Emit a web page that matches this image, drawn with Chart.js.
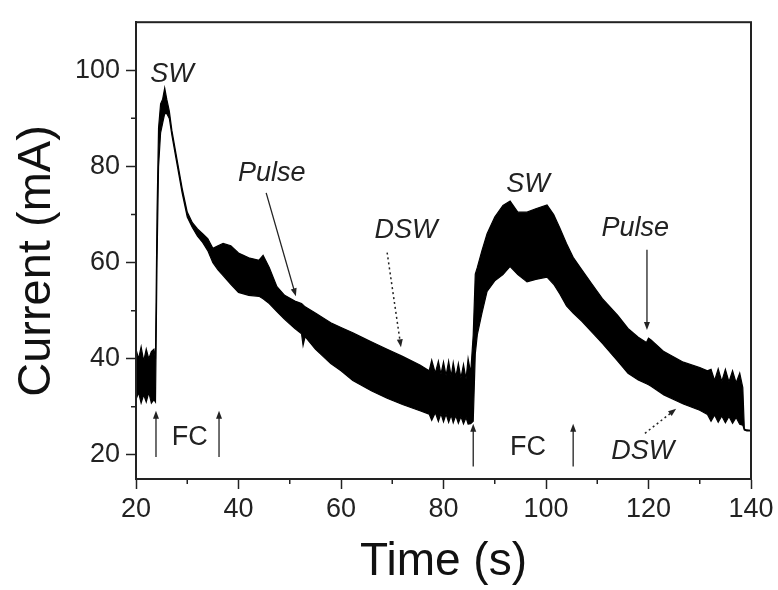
<!DOCTYPE html>
<html>
<head>
<meta charset="utf-8">
<script src="https://cdn.jsdelivr.net/npm/chart.js@4.4.0/dist/chart.umd.min.js"></script>
<style>
  html, body { margin: 0; padding: 0; background: #fff; }
  #wrap { width: 778px; height: 590px; }
</style>
</head>
<body>
<div id="wrap"><canvas id="currentChart"></canvas></div>
<script>
// time (s) and the upper / lower edge of the oscillating current band (mA)
const times = [
    20, 20.5, 21, 21.5, 22, 22.5, 23, 23.5, 23.8, 24.1,
    24.4, 24.8, 25.2, 25.6, 26, 26.5, 27, 28, 29, 30,
    31, 32, 33, 34, 35, 36, 37, 38.5, 40, 42,
    44, 44.8, 46, 47.5, 49, 51, 52.3, 52.6, 53, 55,
    58, 60, 62.3, 66, 69, 72, 75.4, 77.2, 77.7, 78.4,
    79, 79.5, 80, 80.5, 81, 81.5, 81.9, 82.4, 82.9, 83.4,
    83.9, 84.4, 84.8, 85.3, 85.8, 86.2, 86.6, 87.5, 88.5, 90,
    91.6, 93, 94.5, 96.3, 98, 100.2, 101.5, 102.7, 104, 105.3,
    107, 109, 111, 114, 116, 118, 119.6, 120, 120.5, 123,
    126.8, 130, 131.5, 132.2, 132.9, 133.6, 134.3, 135, 135.7, 136.4,
    137.1, 137.8, 138.4, 138.7, 139.2, 140
];
const upperEdge = [
    42, 40, 42.5, 39.5, 42, 40, 41.5, 42, 40, 70,
    88, 93, 94, 96.3, 94, 91.5, 87.5, 81.5, 75.5, 70.5,
    68.3, 67, 66, 65, 63, 63.5, 64, 63.5, 62, 61,
    60.5, 61.5, 59, 55, 53.2, 52, 51.5, 51.2, 50.8, 49.5,
    47.5, 46.5, 45.4, 43.5, 42, 40.5, 38.7, 37.5, 39.7, 37,
    39.5, 36.8, 39.3, 36.5, 39.5, 36.3, 39.2, 36.2, 39, 36,
    38.8, 35.8, 40, 37, 45, 57.6, 59, 62.5, 66, 69.5,
    71.9, 72.8, 70.5, 70.5, 71.2, 72, 70, 67.2, 64, 61.1,
    58.5, 55.5, 52.5, 49, 46.3, 44.5, 43.4, 44.3, 43.9, 41.5,
    39.3, 38.2, 37.5, 37.8, 35.5, 37.9, 35.3, 37.8, 35.2, 37.5,
    35, 37, 34, 25.4, 25.2, 25.1
];
const lowerEdge = [
    31.5, 33, 30.8, 32.5, 31, 33, 30.8, 31.5, 31, 60,
    80, 87, 89, 91, 91, 90, 86.5, 80.5, 74.5, 69.5,
    67.3, 65.5, 64.2, 62.5, 60, 58.5, 57.3, 55.5, 53.8, 53.2,
    53, 52.5, 51.5, 49.8, 48.2, 46.3, 45.2, 42.8, 44.6, 42,
    39, 37.5, 35.5, 33.3, 31.8, 30.5, 29.2, 28.5, 27.2, 28.8,
    27, 28.6, 26.9, 28.5, 26.8, 28.3, 26.7, 28.2, 26.6, 28,
    26.5, 27.8, 26.4, 26.5, 27, 41, 45, 49.5, 54, 56.2,
    57.5, 59.2, 57.5, 56, 56.5, 57, 55.5, 53.5, 51, 49.5,
    47.8, 45.5, 43.2, 39.5, 37, 35.6, 34.8, 34.6, 34.3, 32.5,
    30.6, 29.3, 28.4, 27, 28.3, 26.8, 28.1, 26.7, 28, 26.6,
    27.8, 26.4, 26.2, 25.2, 25, 25
];

const xTicks = [20, 40, 60, 80, 100, 120, 140];
const xMinorTicks = [30, 50, 70, 90, 110, 130];
const yTicks = [20, 40, 60, 80, 100];
const yMinorTicks = [30, 50, 70, 90];

// labels and arrows, placed in data units
const notes = [
    { text: "SW", x: 27, y: 99.2, italic: true },
    { text: "Pulse", x: 46.5, y: 78.6, italic: true },
    { text: "DSW", x: 72.7, y: 66.6, italic: true },
    { text: "FC", x: 30.5, y: 23.7, italic: false },
    { text: "SW", x: 96.5, y: 76.2, italic: true },
    { text: "Pulse", x: 117.4, y: 67.2, italic: true },
    { text: "DSW", x: 118.9, y: 20.8, italic: true },
    { text: "FC", x: 96.5, y: 21.6, italic: false },
];
const arrows = [
    { from: [45.4, 74.5], to: [51.2, 53], dotted: false },
    { from: [69, 62.1], to: [71.7, 42.4], dotted: true },
    { from: [23.9, 19.6], to: [23.9, 29.2], dotted: false },
    { from: [36.2, 19.6], to: [36.2, 29.2], dotted: false },
    { from: [85.8, 17.6], to: [85.8, 26.5], dotted: false },
    { from: [105.3, 17.6], to: [105.3, 26.5], dotted: false },
    { from: [119.7, 62.7], to: [119.7, 46], dotted: false },
    { from: [119.3, 24.5], to: [125.4, 29.6], dotted: true },
];

const FONT = '"Liberation Sans", Arial, sans-serif';
const INK = "#222";

const decorations = {
    id: "decorations",
    afterDraw(chart) {
        const { ctx, chartArea: a, scales: { x, y } } = chart;
        ctx.save();

        // frame
        ctx.strokeStyle = INK;
        ctx.lineWidth = 2;
        ctx.strokeRect(a.left, a.top, a.right - a.left, a.bottom - a.top);

        // minor ticks
        ctx.lineWidth = 1.5;
        ctx.beginPath();
        xMinorTicks.forEach((v) => {
            const px = x.getPixelForValue(v);
            ctx.moveTo(px, a.bottom);
            ctx.lineTo(px, a.bottom + 5);
        });
        yMinorTicks.forEach((v) => {
            const py = y.getPixelForValue(v);
            ctx.moveTo(a.left, py);
            ctx.lineTo(a.left - 5, py);
        });
        ctx.stroke();

        // y axis title
        ctx.save();
        ctx.translate(37, 261);
        ctx.rotate(-Math.PI / 2);
        ctx.font = "47px " + FONT;
        ctx.fillStyle = "#111";
        ctx.textAlign = "center";
        ctx.textBaseline = "middle";
        ctx.fillText("Current (mA)", 0, 0);
        ctx.restore();

        // text notes
        ctx.fillStyle = INK;
        ctx.textAlign = "center";
        ctx.textBaseline = "middle";
        notes.forEach((n) => {
            ctx.font = (n.italic ? "italic " : "") + "27px " + FONT;
            ctx.fillText(n.text, x.getPixelForValue(n.x), y.getPixelForValue(n.y));
        });

        // arrows
        arrows.forEach((ar) => {
            const x1 = x.getPixelForValue(ar.from[0]);
            const y1 = y.getPixelForValue(ar.from[1]);
            const x2 = x.getPixelForValue(ar.to[0]);
            const y2 = y.getPixelForValue(ar.to[1]);
            const ang = Math.atan2(y2 - y1, x2 - x1);
            const head = 8;
            ctx.strokeStyle = INK;
            ctx.lineWidth = ar.dotted ? 1.5 : 1.3;
            ctx.setLineDash(ar.dotted ? [2, 3] : []);
            ctx.beginPath();
            ctx.moveTo(x1, y1);
            ctx.lineTo(x2 - Math.cos(ang) * head * 0.8, y2 - Math.sin(ang) * head * 0.8);
            ctx.stroke();
            ctx.setLineDash([]);
            ctx.beginPath();
            ctx.moveTo(x2, y2);
            ctx.lineTo(x2 - head * Math.cos(ang) + 3 * Math.sin(ang), y2 - head * Math.sin(ang) - 3 * Math.cos(ang));
            ctx.lineTo(x2 - head * Math.cos(ang) - 3 * Math.sin(ang), y2 - head * Math.sin(ang) + 3 * Math.cos(ang));
            ctx.closePath();
            ctx.fillStyle = INK;
            ctx.fill();
        });

        ctx.restore();
    },
};

function renderCurrentChart() {
    const ctx = document.getElementById("currentChart");

    const upper = times.map((t, i) => ({ x: t, y: upperEdge[i] }));
    const lower = times.map((t, i) => ({ x: t, y: lowerEdge[i] }));

    new Chart(ctx, {
        type: "line",
        data: {
            datasets: [
                {
                    label: "upper",
                    data: upper,
                    borderColor: "#000",
                    borderWidth: 1.2,
                    pointRadius: 0,
                    fill: false,
                },
                {
                    label: "lower",
                    data: lower,
                    borderColor: "#000",
                    backgroundColor: "#000",
                    borderWidth: 1.2,
                    pointRadius: 0,
                    fill: "-1",
                },
            ],
        },
        options: {
            responsive: true,
            maintainAspectRatio: false,
            animation: false,
            layout: {
                padding: { left: 0, top: 13, right: 27, bottom: 0 },
            },
            plugins: {
                legend: { display: false },
                tooltip: { enabled: false },
            },
            scales: {
                x: {
                    type: "linear",
                    min: 20,
                    max: 140,
                    afterBuildTicks: (scale) => {
                        scale.ticks = xTicks.map((v) => ({ value: v }));
                    },
                    afterFit: (scale) => {
                        scale.height = 111;
                    },
                    ticks: {
                        color: INK,
                        padding: 4,
                        maxRotation: 0,
                        font: { family: FONT, size: 27 },
                    },
                    grid: {
                        drawOnChartArea: false,
                        tickLength: 10,
                        tickWidth: 1.5,
                        color: INK,
                    },
                    border: { color: INK, width: 2 },
                    title: {
                        display: true,
                        text: "Time (s)",
                        color: "#111",
                        font: { family: FONT, size: 46 },
                        padding: { top: 0, bottom: 0 },
                    },
                },
                y: {
                    min: 15,
                    max: 110,
                    afterBuildTicks: (scale) => {
                        scale.ticks = yTicks.map((v) => ({ value: v }));
                    },
                    afterFit: (scale) => {
                        scale.width = 136;
                    },
                    ticks: {
                        color: INK,
                        padding: 6,
                        font: { family: FONT, size: 27 },
                    },
                    grid: {
                        drawOnChartArea: false,
                        tickLength: 10,
                        tickWidth: 1.5,
                        color: INK,
                    },
                    border: { color: INK, width: 2 },
                },
            },
        },
        plugins: [decorations],
    });
}

renderCurrentChart();
</script>
</body>
</html>
